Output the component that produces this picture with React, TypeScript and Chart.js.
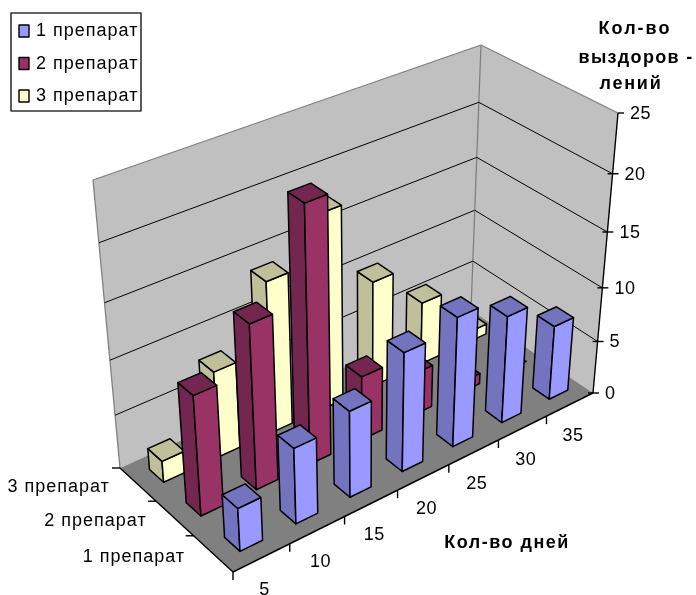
import React, { useEffect, useRef } from "react";
import { Chart, registerables } from "chart.js";

Chart.register(...registerables);

// Recovery counts per observation day, one list per drug
const days = [5, 10, 15, 20, 25, 30, 35];
const drug1 = [4, 7, 8, 11, 12, 10, 7];
const drug2 = [11, 15, 23, 6, 4, 1, 0];
const drug3 = [2, 8, 14, 18, 10, 6, 1];
const seriesNames = ["1 препарат", "2 препарат", "3 препарат"];
const valueTicks = [0, 5, 10, 15, 20, 25];
const valueTitle = ["Кол-во", "выздоров -", "лений"];
const dayTitle = "Кол-во дней";

const faceColors = [
  { front: "#9999FF", side: "#7373BF" },
  { front: "#993366", side: "#732650" },
  { front: "#FFFFCC", side: "#BFBF99" },
];

// Screen positions of the plot box corners; they define the perspective
const frame = {
  origin: [233, 572],
  dayEnd: [593, 393],
  depthEnd: [120, 468],
  floorBack: [471, 310],
  topFront: [618, 113],
  topLeft: [93, 180],
  topBack: [481, 45],
  heightW: -0.11,
};

type P = [number, number];

function makeProjection() {
  const { origin: a, dayEnd: b, floorBack: c, depthEnd: d, topFront: e, heightW } = frame;
  const dx1 = b[0] - c[0], dx2 = d[0] - c[0], dx3 = a[0] - b[0] + c[0] - d[0];
  const dy1 = b[1] - c[1], dy2 = d[1] - c[1], dy3 = a[1] - b[1] + c[1] - d[1];
  const det = dx1 * dy2 - dx2 * dy1;
  const wu = (dx3 * dy2 - dx2 * dy3) / det;
  const wt = (dx1 * dy3 - dx3 * dy1) / det;
  const eu = [b[0] * (1 + wu) - a[0], b[1] * (1 + wu) - a[1]];
  const et = [d[0] * (1 + wt) - a[0], d[1] * (1 + wt) - a[1]];
  const ev = [
    e[0] * (1 + wu + heightW) - b[0] * (1 + wu),
    e[1] * (1 + wu + heightW) - b[1] * (1 + wu),
  ];
  const base = (u: number, v: number, t: number): P => {
    const w = 1 + wu * u + wt * t + heightW * v;
    return [
      (a[0] + u * eu[0] + v * ev[0] + t * et[0]) / w,
      (a[1] + u * eu[1] + v * ev[1] + t * et[1]) / w,
    ];
  };
  // The two rear top corners are pinned, with the difference spread over the box
  const leftBase = base(0, 1, 1);
  const backBase = base(1, 1, 1);
  const fixLeft = [frame.topLeft[0] - leftBase[0], frame.topLeft[1] - leftBase[1]];
  const fixBack = [frame.topBack[0] - backBase[0], frame.topBack[1] - backBase[1]];
  return (u: number, v: number, t: number): P => {
    const p = base(u, v, t);
    return [
      p[0] + v * t * ((1 - u) * fixLeft[0] + u * fixBack[0]),
      p[1] + v * t * ((1 - u) * fixLeft[1] + u * fixBack[1]),
    ];
  };
}

const project = makeProjection();

function poly(ctx: CanvasRenderingContext2D, pts: P[], fill: string | null, stroke: string | null, lw = 1) {
  ctx.beginPath();
  pts.forEach((p, i) => (i ? ctx.lineTo(p[0], p[1]) : ctx.moveTo(p[0], p[1])));
  ctx.closePath();
  if (fill) {
    ctx.fillStyle = fill;
    ctx.fill();
  }
  if (stroke) {
    ctx.strokeStyle = stroke;
    ctx.lineWidth = lw;
    ctx.stroke();
  }
}

function line(ctx: CanvasRenderingContext2D, a: P, b: P, color = "#000", lw = 1) {
  ctx.beginPath();
  ctx.moveTo(a[0], a[1]);
  ctx.lineTo(b[0], b[1]);
  ctx.strokeStyle = color;
  ctx.lineWidth = lw;
  ctx.stroke();
}

function label(
  ctx: CanvasRenderingContext2D,
  text: string,
  x: number,
  y: number,
  align: CanvasTextAlign,
  font: string,
  spacing: string
) {
  ctx.font = font;
  (ctx as any).letterSpacing = spacing;
  ctx.textAlign = align;
  ctx.textBaseline = "middle";
  ctx.fillStyle = "#000";
  ctx.fillText(text, x, y);
}

const REGULAR = "18px 'Liberation Sans', Arial, sans-serif";
const BOLD = "bold 18px 'Liberation Sans', Arial, sans-serif";

const bars3d = {
  id: "bars3d",
  afterDatasetsDraw(chart: any) {
    const ctx: CanvasRenderingContext2D = chart.ctx;
    const xs = chart.scales.x;
    const ys = chart.scales.y;
    const depthCells = chart.data.datasets.length;
    const dayCells = days.length;
    const dayShare = 0.4;
    const depthShare = 0.39;
    const dayNudge = 0.005;
    const uOf = (day: number) => xs.getDecimalForPixel(xs.getPixelForValue(day));
    const vOf = (val: number) => ys.getDecimalForPixel(ys.getPixelForValue(val));

    ctx.save();
    ctx.lineJoin = "round";

    // Walls and floor
    poly(ctx, [project(0, 0, 1), project(1, 0, 1), project(1, 1, 1), project(0, 1, 1)], "#C0C0C0", null);
    poly(ctx, [project(1, 0, 0), project(1, 1, 0), project(1, 1, 1), project(1, 0, 1)], "#C0C0C0", null);
    poly(ctx, [project(0, 0, 0), project(1, 0, 0), project(1, 0, 1), project(0, 0, 1)], "#808080", null);

    line(ctx, project(0, 0, 1), project(0, 1, 1), "#808080", 1.3);
    line(ctx, project(0, 1, 1), project(1, 1, 1), "#808080", 1.3);
    line(ctx, project(1, 1, 1), project(1, 1, 0), "#808080", 1.3);
    line(ctx, project(1, 0, 1), project(1, 1, 1), "#808080", 1.3);

    // Gridlines and value axis
    valueTicks.forEach((tick) => {
      const v = vOf(tick);
      if (tick > 0 && tick < valueTicks[valueTicks.length - 1]) {
        line(ctx, project(0, v, 1), project(1, v, 1), "#000", 1);
        line(ctx, project(1, v, 1), project(1, v, 0), "#000", 1);
      }
    });
    line(ctx, project(1, 0, 0), project(1, 1, 0), "#000", 1.4);
    valueTicks.forEach((tick, i) => {
      const p = project(1, vOf(tick), 0);
      line(ctx, [p[0] - (i === valueTicks.length - 1 ? 0 : 5), p[1]], [p[0] + 6, p[1]], "#000", 1.4);
      label(ctx, String(tick), p[0] + 12, p[1] + 1, "left", REGULAR, "0.5px");
    });

    // Day and drug axes with their tick marks
    line(ctx, project(0, 0, 0), project(1, 0, 0), "#000", 1.4);
    line(ctx, project(0, 0, 0), project(0, 0, 1), "#000", 1.4);
    for (let k = 0; k < dayCells; k++) {
      const p = project(k / dayCells, 0, 0);
      line(ctx, p, [p[0], p[1] + 8], "#000", 1.4);
    }
    for (let k = 0; k < depthCells; k++) {
      const p = project(0, 0, (k + 1) / depthCells);
      line(ctx, p, [p[0] - 8, p[1]], "#000", 1.4);
    }
    days.forEach((d) => {
      const p = project(uOf(d), 0, 0);
      label(ctx, String(d), p[0] + 3, p[1] + 32, "center", REGULAR, "0.5px");
    });
    seriesNames.forEach((name, i) => {
      const p = project(0, 0, (i + 0.5) / depthCells);
      label(ctx, name, p[0] - 28, p[1] + 3, "right", REGULAR, "1px");
    });

    // Bars, painted from the far corner forwards
    for (let s = depthCells - 1; s >= 0; s--) {
      const points = chart.data.datasets[s].data;
      const colors = faceColors[s];
      for (let i = points.length - 1; i >= 0; i--) {
        const uc = uOf(points[i].x) + dayNudge;
        const tc = (s + 0.5) / depthCells;
        const hu = (dayShare / dayCells) / 2;
        const ht = (depthShare / depthCells) / 2;
        const u0 = uc - hu, u1 = uc + hu, t0 = tc - ht, t1 = tc + ht;
        const v = vOf(points[i].y);
        poly(ctx, [project(u0, 0, t1), project(u0, 0, t0), project(u0, v, t0), project(u0, v, t1)], colors.side, "#000", 1.5);
        poly(ctx, [project(u0, 0, t0), project(u1, 0, t0), project(u1, v, t0), project(u0, v, t0)], colors.front, "#000", 1.5);
        poly(ctx, [project(u0, v, t0), project(u1, v, t0), project(u1, v, t1), project(u0, v, t1)], colors.side, "#000", 1.5);
      }
    }

    // Axis titles
    valueTitle.forEach((t, i) => {
      label(ctx, t, [635, 636, 631][i], [29, 58, 84][i], "center", BOLD, ["2px", "1.3px", "1.8px"][i]);
    });
    label(ctx, dayTitle, 507, 543, "center", BOLD, "1.5px");

    // Legend panel
    poly(ctx, [[11, 13], [141, 13], [141, 111], [11, 111]], "#FFF", "#333", 1.6);
    seriesNames.forEach((name, i) => {
      const y = 31 + i * 32.5;
      poly(ctx, [[19, y - 6], [29, y - 6], [29, y + 6], [19, y + 6]], faceColors[i].front, "#000", 1.4);
      label(ctx, name, 36, y + 0.5, "left", REGULAR, "1px");
    });
    ctx.restore();
  },
};

export default function App() {
  const ref = useRef<HTMLCanvasElement>(null);
  useEffect(() => {
    const toPoints = (vals: number[]) => days.map((d, i) => ({ x: d, y: vals[i] }));
    const chart = new Chart(ref.current!, {
      type: "scatter",
      data: {
        datasets: [drug1, drug2, drug3].map((vals, i) => ({
          label: seriesNames[i],
          data: toPoints(vals),
          pointRadius: 0,
          backgroundColor: faceColors[i].front,
        })),
      },
      options: {
        responsive: false,
        animation: false,
        layout: { padding: 0 },
        plugins: { legend: { display: false }, tooltip: { enabled: false } },
        scales: {
          x: { type: "linear", min: 2.5, max: 37.5, display: false },
          y: { type: "linear", min: 0, max: 25, display: false },
        },
      },
      plugins: [bars3d],
    } as any);
    return () => chart.destroy();
  }, []);
  return (
    <canvas
      ref={ref}
      width={696}
      height={595}
      style={{ position: "absolute", left: 0, top: 0, background: "#fff" }}
    />
  );
}
